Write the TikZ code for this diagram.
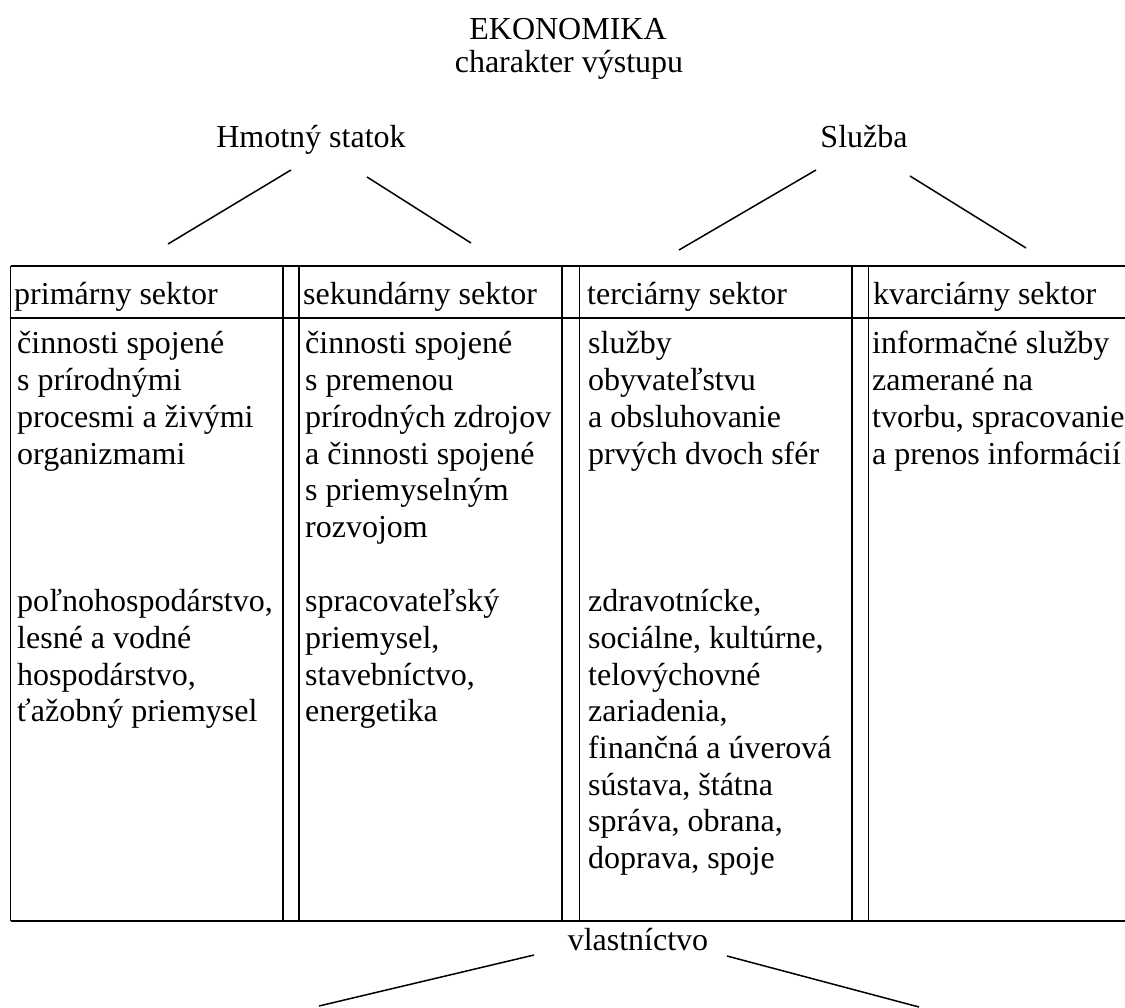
\documentclass[tikz,border=0pt]{standalone}
\usepackage{fontspec}
\setmainfont{Liberation Serif}
\newcommand\celltext[1]{\vtop{\halign{##\hfil\cr#1\crcr}}}
\begin{document}
\begin{tikzpicture}[x=1pt,y=-1pt,
  ctxt/.style={anchor=base,inner sep=0pt,font=\fontsize{32}{36.7}\selectfont},
  cell/.style={anchor=base west,inner sep=0pt,font=\fontsize{32}{36.7}\selectfont},
  gridline/.style={line width=1.1pt},
  conn/.style={line width=1.5pt}]
\useasboundingbox (0,0) rectangle (1125,1008);
\clip (0,0) rectangle (1125,1008);

% title
\node[ctxt] (title) at (568,40) {EKONOMIKA};
\node[ctxt] (sub) at (569,73) {charakter výstupu};

% output kinds
\node[ctxt] (hmot) at (311,148) {Hmotný statok};
\node[ctxt] (sluz) at (864,148) {Služba};

\coordinate (hl1) at (291,170); \coordinate (hl2) at (168,244);
\coordinate (hr1) at (367,177); \coordinate (hr2) at (471,243);
\coordinate (sl1) at (816,170); \coordinate (sl2) at (679,250);
\coordinate (sr1) at (910,176); \coordinate (sr2) at (1026,248);
\draw[conn] (hl1) -- (hl2);
\draw[conn] (hr1) -- (hr2);
\draw[conn] (sl1) -- (sl2);
\draw[conn] (sr1) -- (sr2);

% table grid
\draw[gridline] (10.7,266) -- (1135,266);
\draw[gridline] (10.7,318) -- (1135,318);
\draw[gridline] (10.7,921) -- (1135,921);
\foreach \xx in {10.7,283,299,562,579.3,852,868.3}
  \draw[gridline] (\xx,266) -- (\xx,921);

% headers
\node[cell] (h1) at (14,305) {primárny sektor};
\node[cell] (h2) at (303,305) {sekundárny sektor};
\node[cell] (h3) at (587,305) {terciárny sektor};
\node[cell] (h4) at (873,305) {kvarciárny sektor};

% body, first blocks
\node[cell] (a1) at (17,354) {\celltext{činnosti spojené\cr s prírodnými\cr procesmi a živými\cr organizmami}};
\node[cell] (a2) at (305,354) {\celltext{činnosti spojené\cr s premenou\cr prírodných zdrojov\cr a činnosti spojené\cr s priemyselným\cr rozvojom}};
\node[cell] (a3) at (588,354) {\celltext{služby\cr obyvateľstvu\cr a obsluhovanie\cr prvých dvoch sfér}};
\node[cell] (a4) at (872,354) {\celltext{informačné služby\cr zamerané na\cr tvorbu, spracovanie\cr a prenos informácií}};

% body, second blocks
\node[cell] (b1) at (17,611.6) {\celltext{poľnohospodárstvo,\cr lesné a vodné\cr hospodárstvo,\cr ťažobný priemysel}};
\node[cell] (b2) at (305,611.6) {\celltext{spracovateľský\cr priemysel,\cr stavebníctvo,\cr energetika}};
\node[cell] (b3) at (588,611.6) {\celltext{zdravotnícke,\cr sociálne, kultúrne,\cr telovýchovné\cr zariadenia,\cr finančná a úverová\cr sústava, štátna\cr správa, obrana,\cr doprava, spoje}};

% ownership
\node[ctxt] (vlast) at (638,950) {vlastníctvo};
\coordinate (vl1) at (534,955); \coordinate (vl2) at (319,1006);
\coordinate (vr1) at (727,956); \coordinate (vr2) at (919,1007);
\draw[conn] (vl1) -- (vl2);
\draw[conn] (vr1) -- (vr2);
\end{tikzpicture}
\end{document}
